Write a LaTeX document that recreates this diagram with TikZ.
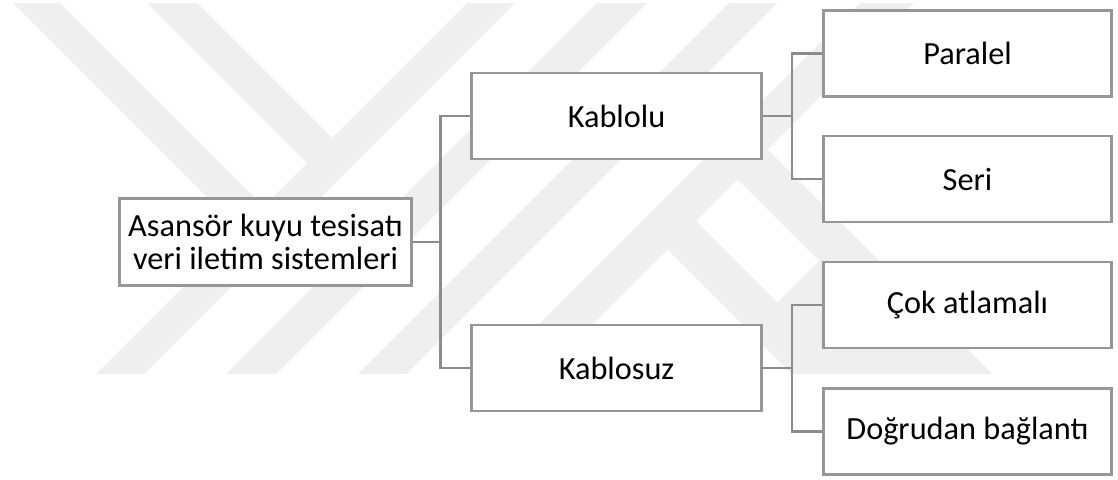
\documentclass[tikz,border=0pt]{standalone}
\usepackage{fontspec}
\setmainfont{Carlito}
\definecolor{boxgray}{RGB}{150,150,150}
\definecolor{linkgray}{RGB}{140,140,140}
\definecolor{wmgray}{RGB}{239,239,239}
\begin{document}
\begin{tikzpicture}[x=1pt,y=-1pt,
  box/.style={draw=boxgray, line width=2.6pt, fill=white, inner sep=0pt,
    align=center, font=\fontsize{32.3}{32.5}\selectfont},
  rootbox/.style={box, minimum width=292pt, minimum height=87pt},
  midbox/.style={box, minimum width=290pt, minimum height=86pt},
  leafbox/.style={box, minimum width=288pt, minimum height=86pt},
  link/.style={draw=linkgray, line width=2.6pt, line join=miter},
  wm/.style={fill=wmgray}]
\fill[white] (0,0) rectangle (1118,479);
\useasboundingbox (0,0) rectangle (1118,479);

% faint background emblem: crossing diagonal stripes
\begin{scope}
  \clip (0,3) rectangle (1118,373);
  % stripes rising to the right
  \foreach \a/\b in {470/518, 600/650, 732/780, 863/917}
    \fill[wm] (\a,0) -- (\b,0) -- (\b-380,380) -- (\a-380,380) -- cycle;
  % stripes falling to the right, ending in the first rising stripe
  \foreach \a/\b in {10/57, 144/194}
    \fill[wm] (\a,0) -- (\b,0) -- ({(\b+494)/2},{(494-\b)/2}) -- ({(\a+494)/2},{(494-\a)/2}) -- cycle;
  % lower right legs
  \foreach \a/\b in {418/475, 558/618}
    \fill[wm] ({(\a+890)/2},{(890-\a)/2}) -- ({(\b+890)/2},{(890-\b)/2}) -- (\b+380,380) -- (\a+380,380) -- cycle;
  \fill[wm] (749,331) -- (849,231) -- (998,380) -- (798,380) -- cycle;
\end{scope}

% boxes
\node[rootbox] (root) at (265.5,242) {Asansör kuyu tesisatı\\veri iletim sistemleri};
\node[midbox] (kablolu) at (616.5,116) {Kablolu};
\node[midbox] (kablosuz) at (616.5,368) {Kablosuz};
\node[leafbox] (paralel) at (967.5,53.5) {Paralel};
\node[leafbox] (seri) at (967.5,179) {Seri};
\node[leafbox] (cok) at (967.5,305) {Çok atlamalı};
\node[leafbox] (dogrudan) at (967.5,431.5) {Doğrudan bağlantı};

% junction points
\coordinate (j1) at (440.5,242);
\coordinate (j2) at (792,116);
\coordinate (j3) at (792,368);

% connectors
\draw[link] (root.east) -- (j1);
\draw[link] (kablolu.west) -| (j1) |- (kablosuz.west);
\draw[link] (kablolu.east) -- (j2);
\draw[link] (paralel.west) -| (j2) |- (seri.west);
\draw[link] (kablosuz.east) -- (j3);
\draw[link] (cok.west) -| (j3) |- (dogrudan.west);
\end{tikzpicture}
\end{document}
